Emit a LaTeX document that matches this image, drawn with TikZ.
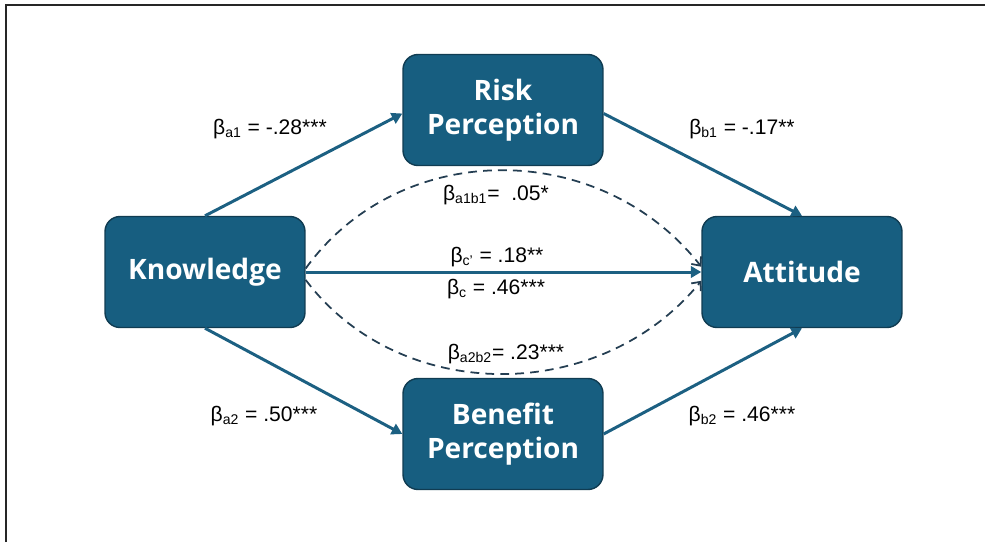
\documentclass[tikz,border=0pt]{standalone}
\usepackage{fontspec}
\setmainfont{Liberation Sans}
\newfontfamily\boxfont{Open Sans}
\usetikzlibrary{arrows.meta}

\definecolor{boxblue}{RGB}{23,94,128}
\definecolor{boxedge}{RGB}{16,60,82}
\definecolor{arrowblue}{RGB}{28,96,130}
\definecolor{dashgray}{RGB}{36,62,82}

\begin{document}
\begin{tikzpicture}[x=0.02cm, y=-0.02cm,
	varbox/.style={draw=boxedge, line width=0.8pt, fill=boxblue, rounded corners=0.3cm,
		minimum width=4cm, minimum height=2.22cm, align=center, text=white,
		font=\boxfont\bfseries\fontsize{16}{19.5}\selectfont},
	effect/.style={draw=arrowblue, line width=1.7pt, -{Triangle[length=6pt,width=6.5pt]}},
	indirect/.style={draw=dashgray, line width=1pt, dash pattern=on 5pt off 3.5pt,
		-{Straight Barb[length=4pt,width=7pt]}},
	coef/.style={font=\fontsize{12}{14}\selectfont}]
	
	\useasboundingbox (0,0) rectangle (985,542);
	\draw [line width=1.2pt, black!85] (6,542) -- (6,5) -- (985,5);
	
	\node [varbox] (know) at (205,272) {Knowledge};
	\node [varbox] (risk) at (503,110) {Risk\\Perception};
	\node [varbox] (bene) at (503,434) {Benefit\\Perception};
	\node [varbox] (atti) at (802,272) {Attitude};
	
	\draw [effect] (know.north) -- ([yshift=-2pt]risk.west);
	\draw [effect] ([yshift=-2pt]risk.east) -- (atti.north);
	\draw [effect] (know.south) -- (bene.west);
	\draw [effect] (bene.east) -- (atti.south);
	\draw [effect] (know.east) -- (atti.west);
	
	\draw [indirect] ([yshift=2pt]know.east) .. controls (400,138) and (600,138) .. ([yshift=3pt]atti.west);
	\draw [indirect] ([yshift=-4.5pt]know.east) .. controls (400,405) and (600,405) .. ([yshift=-5pt]atti.west);
	
	\node [coef] (a1) at (270,129) {β\textsubscript{a1} = -.28***};
	\node [coef] (b1) at (742,129) {β\textsubscript{b1} = -.17**};
	\node [coef] (a1b1) at (496,195) {β\textsubscript{a1b1}=~~.05*};
	\node [coef] (cp) at (497,257) {β\textsubscript{c’} = .18**};
	\node [coef] (c) at (496,289) {β\textsubscript{c} = .46***};
	\node [coef] (a2b2) at (506,354) {β\textsubscript{a2b2}= .23***};
	\node [coef] (a2) at (264,416) {β\textsubscript{a2} = .50***};
	\node [coef] (b2) at (742,416) {β\textsubscript{b2} = .46***};
\end{tikzpicture}
\end{document}
